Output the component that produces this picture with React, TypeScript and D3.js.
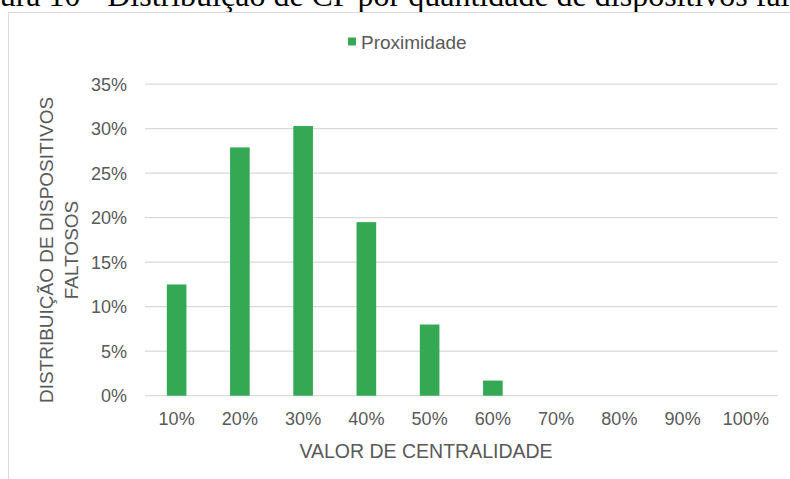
import { useEffect, useRef } from "react";
import * as d3 from "d3";

const categories = ["10%", "20%", "30%", "40%", "50%", "60%", "70%", "80%", "90%", "100%"];
const proximidade = [12.5, 27.9, 30.3, 19.5, 8.0, 1.7, 0, 0, 0, 0];
const yTicks = [0, 5, 10, 15, 20, 25, 30, 35];
const seriesName = "Proximidade";
const caption = "Figura 10 - Distribuição de CP por quantidade de dispositivos faltosos";

const App = () => {
    const svgRef = useRef<SVGSVGElement>(null);

    useEffect(() => {
        const svg = d3.select(svgRef.current);
        svg.selectAll("*").remove();

        const font = "'Liberation Sans', Arial, sans-serif";
        const textColor = "#595959";
        const green = "#35A853";

        const x = d3
            .scaleBand()
            .domain(categories)
            .range([145, 777.5])
            .paddingInner(0.69)
            .paddingOuter(0.345);

        const y = d3.scaleLinear().domain([0, 35]).range([395.7, 84.2]);

        // caption of the page, cut off at the top
        svg
            .append("text")
            .attr("x", -43)
            .attr("y", 6)
            .style("font-family", "'Liberation Serif', 'Times New Roman', serif")
            .style("font-size", "32px")
            .attr("fill", "#000")
            .text(caption);

        // chart border
        svg
            .append("rect")
            .attr("x", 8.5)
            .attr("y", 12.5)
            .attr("width", 900)
            .attr("height", 600)
            .attr("fill", "#fff")
            .attr("stroke", "#d9d9d9")
            .attr("stroke-width", 1);

        // grid lines
        svg
            .selectAll(".grid")
            .data(yTicks)
            .enter()
            .append("line")
            .attr("class", "grid")
            .attr("x1", 145)
            .attr("x2", 777.5)
            .attr("y1", (d) => y(d))
            .attr("y2", (d) => y(d))
            .attr("stroke", "#d9d9d9")
            .attr("stroke-width", 1.3);

        // y tick labels
        svg
            .selectAll(".ytick")
            .data(yTicks)
            .enter()
            .append("text")
            .attr("class", "ytick")
            .attr("x", 127)
            .attr("y", (d) => y(d))
            .attr("dy", "0.36em")
            .attr("text-anchor", "end")
            .style("font-family", font)
            .style("font-size", "18px")
            .attr("fill", textColor)
            .text((d) => `${d}%`);

        // x tick labels
        svg
            .selectAll(".xtick")
            .data(categories)
            .enter()
            .append("text")
            .attr("class", "xtick")
            .attr("x", (d) => (x(d) ?? 0) + x.bandwidth() / 2)
            .attr("y", 425)
            .attr("text-anchor", "middle")
            .style("font-family", font)
            .style("font-size", "18px")
            .attr("fill", textColor)
            .text((d) => d);

        // bars
        svg
            .selectAll(".bar")
            .data(categories.map((c, i) => ({ c, v: proximidade[i] })))
            .enter()
            .append("rect")
            .attr("class", "bar")
            .attr("x", (d) => x(d.c) ?? 0)
            .attr("y", (d) => y(d.v))
            .attr("width", x.bandwidth())
            .attr("height", (d) => y(0) - y(d.v))
            .attr("fill", green);

        // x axis title
        svg
            .append("text")
            .attr("x", 426)
            .attr("y", 458)
            .attr("text-anchor", "middle")
            .style("font-family", font)
            .style("font-size", "19.5px")
            .attr("fill", textColor)
            .text("VALOR DE CENTRALIDADE");

        // y axis title, two lines
        const yTitle = svg
            .append("text")
            .attr("transform", "translate(53,250) rotate(-90)")
            .attr("text-anchor", "middle")
            .style("font-family", font)
            .style("font-size", "19px")
            .attr("fill", textColor);
        yTitle.append("tspan").attr("x", 0).attr("y", 0).text("DISTRIBUIÇÃO DE DISPOSITIVOS");
        yTitle.append("tspan").attr("x", 0).attr("y", 25).text("FALTOSOS");

        // legend
        svg
            .append("rect")
            .attr("x", 348)
            .attr("y", 37.5)
            .attr("width", 8)
            .attr("height", 8)
            .attr("fill", green);
        svg
            .append("text")
            .attr("x", 361)
            .attr("y", 49)
            .style("font-family", font)
            .style("font-size", "19px")
            .attr("fill", textColor)
            .text(seriesName);
    }, []);

    return (
        <div style={{ position: "absolute", left: 0, top: 0, width: 790, height: 479, background: "#fff" }}>
            <svg ref={svgRef} width="790" height="479" style={{ display: "block" }}></svg>
        </div>
    );
};

export default App;
